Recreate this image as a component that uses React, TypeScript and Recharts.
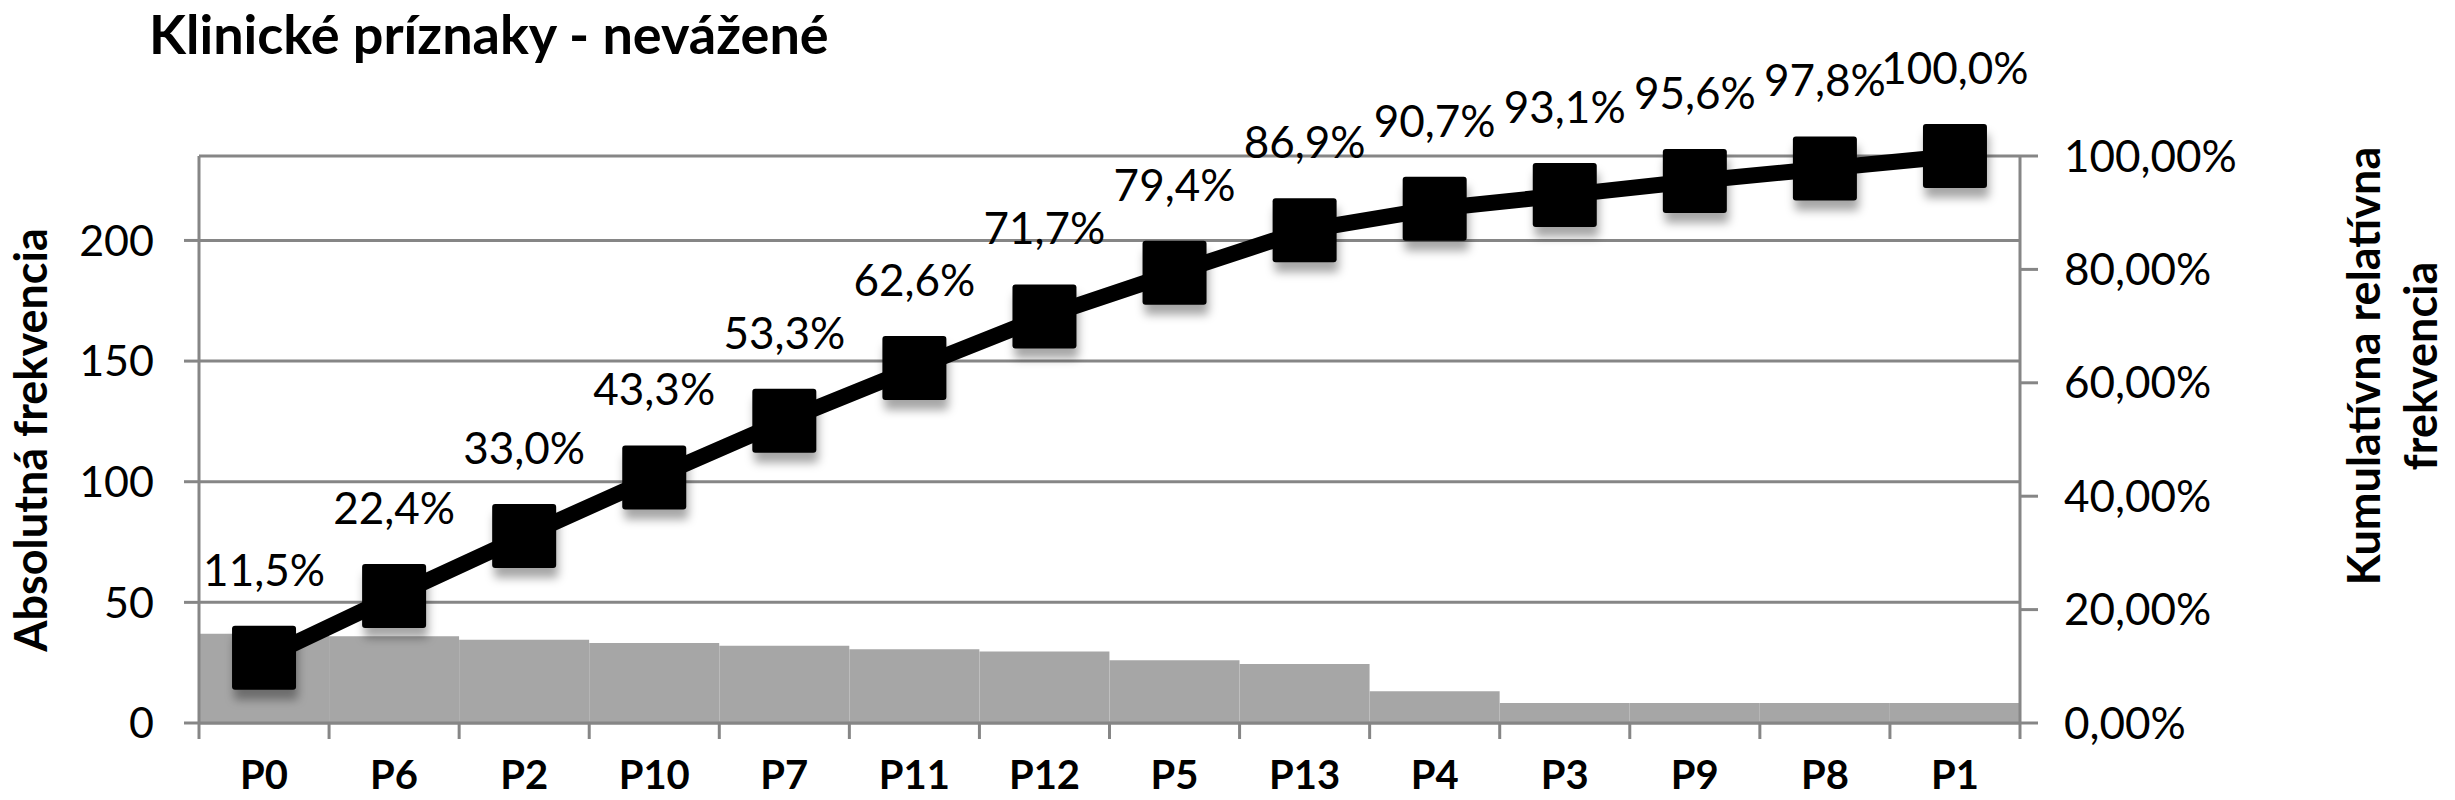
import React from "react";
import {
  ComposedChart,
  Bar,
  Line,
  XAxis,
  YAxis,
  CartesianGrid,
  LabelList,
} from "recharts";

const categories = ["P0", "P6", "P2", "P10", "P7", "P11", "P12", "P5", "P13", "P4", "P3", "P9", "P8", "P1"];
const frequencies = [37, 36, 34.5, 33.2, 32, 30.6, 29.6, 26, 24.5, 13.2, 8.3, 8.3, 8.3, 8.3];
const cumulative = [0.115, 0.224, 0.33, 0.433, 0.533, 0.626, 0.717, 0.794, 0.869, 0.907, 0.931, 0.956, 0.978, 1.0];
const leftTicks = [0, 50, 100, 150, 200];
const rightTicks = [0, 0.2, 0.4, 0.6, 0.8, 1];

const W = 2455;
const H = 800;
const LEFT_W = 199;
const RIGHT_W = 435;
const PLOT_W = W - LEFT_W - RIGHT_W;
const GRID = "#868686";
const FONT = "Lato, 'Open Sans', sans-serif";

const rows = categories.map((name, i) => ({
  name,
  freq: frequencies[i],
  cum: cumulative[i],
}));

const pct1 = (v: number) => (v * 100).toFixed(1).replace(".", ",") + "%";
const pct2 = (v: number) => (v * 100).toFixed(2).replace(".", ",") + "%";

// category labels plus tick marks on the category boundaries, like Excel
function CategoryTick(props: any) {
  const { x, y, payload, index } = props;
  const half = PLOT_W / categories.length / 2;
  return (
    <g>
      <line x1={x - half} x2={x - half} y1={y} y2={y + 16} stroke={GRID} strokeWidth={3} />
      {index === categories.length - 1 && (
        <line x1={x + half} x2={x + half} y1={y} y2={y + 16} stroke={GRID} strokeWidth={3} />
      )}
      <text x={x} y={y + 66} textAnchor="middle" fontSize={40} fontWeight={700} fontFamily={FONT} fill="#000">
        {payload.value}
      </text>
    </g>
  );
}

function Marker(props: any) {
  const { cx, cy, index } = props;
  if (cx == null || cy == null) return <g key={`m-${index}`} />;
  return (
    <rect
      key={`m-${index}`}
      x={cx - 32}
      y={cy - 32}
      width={64}
      height={64}
      rx={3}
      fill="#000"
      filter="url(#markerShadow)"
    />
  );
}

function CumLabel(props: any) {
  const { x, y, value } = props;
  return (
    <text x={x} y={y - 72} textAnchor="middle" fontSize={44} fontFamily={FONT} fill="#000">
      {pct1(value)}
    </text>
  );
}

export default function App() {
  return (
    <div style={{ position: "absolute", left: 0, top: 0, width: W, height: H, background: "#fff" }}>
      <ComposedChart
        width={W}
        height={H}
        data={rows}
        margin={{ top: 156, right: 0, bottom: 0, left: 0 }}
        barCategoryGap={0}
        style={{ fontFamily: FONT }}
      >
        <defs>
          <filter id="markerShadow" x="-40%" y="-40%" width="180%" height="200%">
            <feDropShadow dx="2" dy="10" stdDeviation="5" floodColor="#000" floodOpacity="0.35" />
          </filter>
        </defs>
        <CartesianGrid yAxisId="left" vertical={false} stroke={GRID} strokeWidth={3} />
        <XAxis
          dataKey="name"
          height={77}
          interval={0}
          tickSize={0}
          tickMargin={0}
          tickLine={false}
          axisLine={{ stroke: GRID, strokeWidth: 3 }}
          tick={<CategoryTick />}
        />
        <YAxis
          yAxisId="left"
          width={LEFT_W}
          domain={[0, 235]}
          ticks={leftTicks}
          tickSize={15}
          tickMargin={30}
          axisLine={{ stroke: GRID, strokeWidth: 3 }}
          tickLine={{ stroke: GRID, strokeWidth: 3 }}
          tick={{ fill: "#000", fontSize: 43, fontFamily: FONT }}
        />
        <YAxis
          yAxisId="right"
          orientation="right"
          width={RIGHT_W}
          domain={[0, 1]}
          ticks={rightTicks}
          tickFormatter={pct2}
          tickSize={18}
          tickMargin={26}
          axisLine={{ stroke: GRID, strokeWidth: 3 }}
          tickLine={{ stroke: GRID, strokeWidth: 3 }}
          tick={{ fill: "#000", fontSize: 44, fontFamily: FONT }}
        />
        <Bar yAxisId="left" dataKey="freq" fill="#a6a6a6" isAnimationActive={false} />
        <Line
          yAxisId="right"
          type="linear"
          dataKey="cum"
          stroke="#000"
          strokeWidth={16}
          dot={Marker}
          activeDot={false}
          isAnimationActive={false}
        >
          <LabelList dataKey="cum" content={CumLabel} />
        </Line>
      </ComposedChart>
      <svg
        width={W}
        height={H}
        style={{ position: "absolute", left: 0, top: 0, pointerEvents: "none" }}
      >
        <text x={149} y={54} fontSize={54} fontWeight={700} fontFamily={FONT} fill="#000">
          Klinické príznaky - nevážené
        </text>
        <text
          transform="translate(47,440) rotate(-90)"
          textAnchor="middle"
          fontSize={45}
          fontWeight={700}
          fontFamily={FONT}
          fill="#000"
        >
          Absolutná frekvencia
        </text>
        <text
          transform="translate(2380,366) rotate(-90)"
          textAnchor="middle"
          fontSize={45}
          fontWeight={700}
          fontFamily={FONT}
          fill="#000"
        >
          Kumulatívna relatívna
        </text>
        <text
          transform="translate(2437,366) rotate(-90)"
          textAnchor="middle"
          fontSize={45}
          fontWeight={700}
          fontFamily={FONT}
          fill="#000"
        >
          frekvencia
        </text>
      </svg>
    </div>
  );
}
